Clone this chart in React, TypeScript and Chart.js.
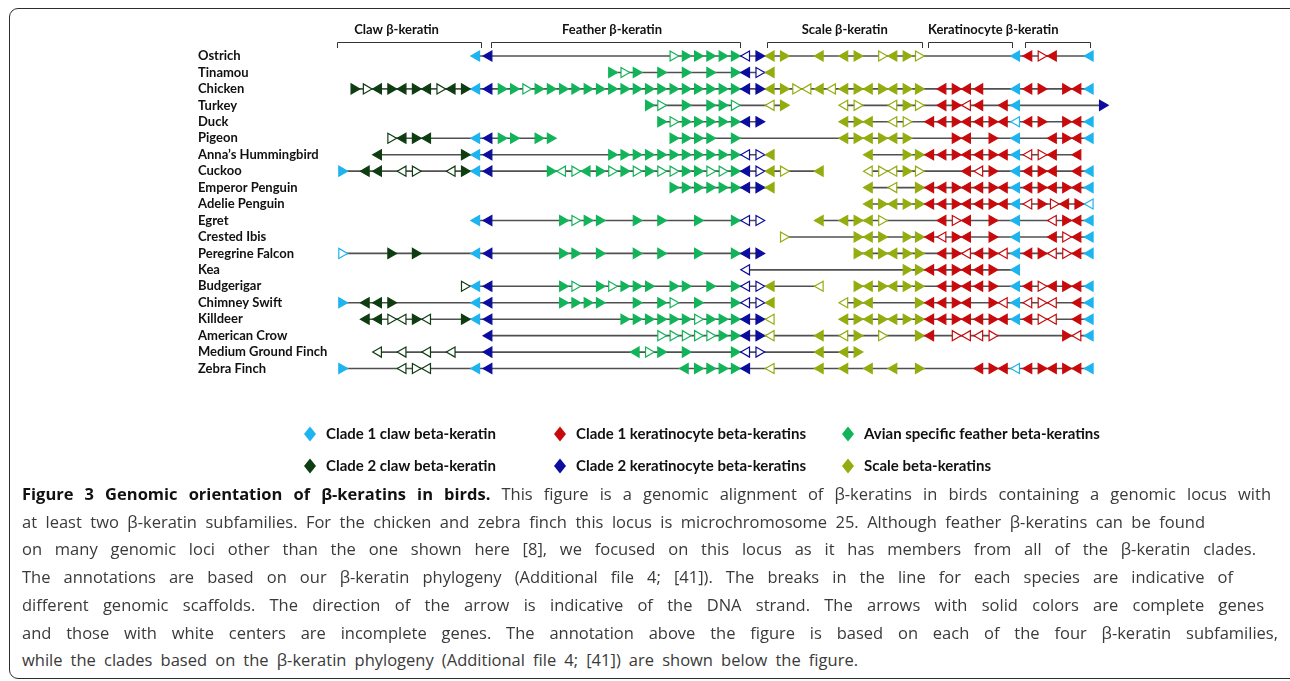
import React, { useEffect, useLayoutEffect, useRef } from "react";
import { Chart, registerables } from "chart.js";

Chart.register(...registerables);

// ---------------- DATA ----------------
const species = [
  "Ostrich", "Tinamou", "Chicken", "Turkey", "Duck", "Pigeon", "Anna\u2019s Hummingbird", "Cuckoo",
  "Emperor Penguin", "Adelie Penguin", "Egret", "Crested Ibis", "Peregrine Falcon", "Kea", "Budgerigar",
  "Chimney Swift", "Killdeer", "American Crow", "Medium Ground Finch", "Zebra Finch",
];

// gene = [locus slot, code]; code = clade letter + ("o" = incomplete / white centre) + strand ("<" or ">")
// A clade 1 claw, B clade 2 claw, R clade 1 keratinocyte, K clade 2 keratinocyte, F feather, S scale
const ostrichGenes = [[11,"A<"],[12,"K<"],[27,"Fo>"],[28,"F>"],[29,"F>"],[30,"F>"],[31,"F>"],[32,"F>"],[33,"Ko<"],[34,"K>"],[35,"S<"],[36,"S>"],[39,"S<"],[41,"S<"],[42,"S>"],[44,"So>"],[45,"S<"],[46,"S>"],[47,"So>"],[55,"A<"],[56,"R<"],[57,"Ro>"],[58,"R<"],[61,"A<"]];
const tinamouGenes = [[22,"F>"],[23,"Fo>"],[24,"F>"],[26,"F>"],[28,"F>"],[30,"F>"],[32,"F>"],[33,"K<"],[34,"Ko>"],[35,"S<"]];
const chickenGenes = [[1,"B>"],[2,"Bo>"],[3,"B<"],[4,"B>"],[5,"B<"],[6,"B>"],[7,"B<"],[8,"Bo>"],[9,"B<"],[10,"B>"],[11,"A<"],[12,"K<"],[13,"F>"],[14,"F>"],[15,"Fo>"],[16,"F>"],[17,"F>"],[18,"F>"],[19,"F>"],[20,"F>"],[21,"F>"],[22,"F>"],[23,"F>"],[24,"F>"],[25,"F>"],[26,"F>"],[27,"F>"],[28,"F>"],[29,"F>"],[30,"F>"],[31,"F>"],[32,"F>"],[33,"K<"],[34,"K>"],[35,"S<"],[36,"S>"],[37,"So>"],[38,"So<"],[39,"S<"],[40,"So<"],[41,"S<"],[42,"S>"],[43,"S<"],[44,"S>"],[45,"S<"],[46,"S>"],[47,"S>"],[49,"R<"],[50,"R>"],[51,"R<"],[52,"R<"],[55,"A<"],[56,"R<"],[57,"R>"],[59,"R>"],[60,"R<"],[61,"A<"]];
const turkeyGenes = [[25,"F>"],[26,"Fo>"],[28,"F>"],[30,"F>"],[31,"F>"],[32,"Fo>"],[35,"So<"],[36,"S>"],[41,"So<"],[42,"So>"],[45,"So<"],[46,"S>"],[47,"So>"],[49,"R<"],[50,"R>"],[51,"Ro<"],[52,"R<"],[54,"R<"],[55,"A<"],[62,"K>"]];
const duckGenes = [[26,"F>"],[27,"Fo>"],[28,"F>"],[29,"F>"],[30,"F>"],[31,"F>"],[32,"F>"],[33,"K<"],[34,"K>"],[41,"S<"],[42,"S>"],[43,"S<"],[45,"So<"],[46,"So>"],[48,"R<"],[49,"R<"],[50,"R>"],[51,"R<"],[52,"R<"],[53,"R>"],[54,"R<"],[55,"Ao<"],[56,"R<"],[57,"R>"],[59,"R>"],[60,"R<"],[61,"A<"]];
const pigeonGenes = [[4,"Bo>"],[5,"B<"],[6,"B>"],[7,"B<"],[11,"A<"],[12,"K<"],[13,"F>"],[14,"F>"],[16,"F>"],[17,"F>"],[27,"F>"],[28,"F>"],[29,"F>"],[30,"F>"],[32,"F>"],[41,"S<"],[42,"S>"],[43,"S<"],[44,"S>"],[45,"S<"],[46,"S>"],[50,"R>"],[51,"R<"],[53,"R>"],[55,"A<"],[58,"R<"],[59,"R>"],[60,"R<"],[61,"A<"]];
const hummingbirdGenes = [[3,"B<"],[10,"B>"],[11,"A<"],[12,"K<"],[22,"F>"],[23,"F>"],[24,"F>"],[25,"F>"],[26,"F>"],[27,"F>"],[28,"F>"],[29,"F>"],[30,"F>"],[31,"F>"],[32,"F>"],[33,"Ko<"],[34,"Ko>"],[35,"S<"],[43,"S<"],[46,"S>"],[47,"S>"],[48,"R<"],[49,"R<"],[50,"R>"],[51,"R<"],[52,"R<"],[53,"R>"],[54,"R<"],[55,"A<"],[56,"Ro<"],[57,"Ro>"],[58,"R<"],[60,"R<"]];
const cuckooGenes = [[0,"A>"],[2,"B<"],[3,"B<"],[5,"Bo<"],[6,"Bo>"],[9,"Bo<"],[10,"B>"],[11,"A<"],[12,"K<"],[17,"F>"],[18,"Fo<"],[19,"Fo>"],[20,"F<"],[21,"F>"],[22,"Fo>"],[23,"F>"],[24,"Fo>"],[25,"F>"],[26,"Fo>"],[27,"Fo>"],[28,"F>"],[29,"F>"],[30,"Fo>"],[31,"Fo>"],[32,"F>"],[33,"K<"],[34,"Ko>"],[35,"S<"],[36,"So>"],[39,"S<"],[43,"So<"],[44,"So>"],[45,"So<"],[46,"S>"],[47,"So>"],[51,"R<"],[52,"Ro<"],[53,"R>"],[55,"A<"],[56,"R<"],[57,"R>"],[58,"R<"],[60,"R<"],[61,"A<"]];
const emperorGenes = [[27,"F>"],[28,"F>"],[29,"F>"],[30,"F>"],[31,"F>"],[32,"F>"],[33,"K<"],[34,"K>"],[35,"S<"],[43,"S<"],[45,"So<"],[47,"S>"],[48,"R<"],[49,"R<"],[50,"R>"],[51,"R<"],[52,"R<"],[53,"R>"],[54,"R<"],[55,"A<"],[56,"R<"],[57,"R>"],[58,"R<"],[59,"R>"],[60,"R<"],[61,"A<"]];
const adelieGenes = [[43,"S<"],[44,"S>"],[45,"S<"],[46,"S>"],[47,"S>"],[48,"R<"],[49,"R<"],[50,"R>"],[51,"R<"],[52,"R<"],[53,"R>"],[54,"R<"],[55,"A<"],[56,"Ro<"],[57,"R>"],[58,"Ro>"],[59,"R<"],[60,"R>"],[61,"Ao<"]];
const egretGenes = [[11,"A<"],[12,"K<"],[18,"F>"],[19,"Fo>"],[20,"F>"],[21,"F>"],[24,"F>"],[26,"F>"],[29,"F>"],[32,"F>"],[33,"Ko<"],[34,"Ko>"],[39,"S<"],[41,"S<"],[42,"S>"],[43,"S<"],[44,"So>"],[49,"R<"],[50,"Ro>"],[51,"R<"],[53,"R>"],[55,"A<"],[58,"Ro<"],[59,"R>"],[60,"R<"],[61,"A<"]];
const ibisGenes = [[36,"So>"],[42,"S>"],[43,"S<"],[44,"S>"],[46,"S>"],[47,"S>"],[48,"R<"],[49,"Ro<"],[50,"R>"],[51,"R<"],[53,"R>"],[55,"A<"],[58,"R<"],[59,"Ro>"],[60,"R<"],[61,"A<"]];
const falconGenes = [[0,"Ao>"],[4,"B>"],[6,"B>"],[11,"A<"],[12,"K<"],[18,"F>"],[19,"F>"],[21,"F>"],[24,"F>"],[26,"F>"],[29,"F>"],[32,"F>"],[33,"K<"],[34,"K>"],[42,"S>"],[43,"S<"],[44,"S>"],[45,"S<"],[46,"S>"],[47,"S>"],[49,"R<"],[50,"R>"],[51,"Ro<"],[52,"R<"],[53,"R>"],[54,"Ro<"],[55,"A<"],[56,"R<"],[57,"R>"],[58,"Ro<"],[59,"Ro>"],[60,"R<"],[61,"A<"]];
const keaGenes = [[33,"Ko<"],[46,"S>"],[47,"S>"],[48,"R<"],[49,"R<"],[50,"R>"],[51,"R<"],[52,"R<"],[53,"R>"],[55,"A<"]];
const budgerigarGenes = [[10,"Bo>"],[11,"A<"],[12,"K<"],[18,"F>"],[19,"Fo>"],[21,"F>"],[22,"Fo>"],[23,"F>"],[24,"F>"],[25,"F>"],[27,"F>"],[28,"F>"],[30,"F>"],[32,"F>"],[33,"Ko<"],[34,"Ko>"],[35,"S<"],[39,"So<"],[42,"S>"],[43,"S<"],[44,"S>"],[45,"S<"],[46,"S>"],[47,"S>"],[49,"R<"],[50,"R>"],[51,"R<"],[52,"R<"],[53,"R>"],[55,"A<"],[56,"R<"],[57,"Ro>"],[58,"R<"],[59,"R>"],[60,"R<"],[61,"A<"]];
const swiftGenes = [[0,"A>"],[2,"B<"],[3,"B<"],[4,"B>"],[11,"A<"],[12,"K<"],[18,"F>"],[19,"F>"],[20,"F>"],[21,"F>"],[24,"F>"],[26,"F>"],[27,"Fo>"],[29,"F>"],[32,"F>"],[33,"Ko<"],[34,"Ko>"],[35,"S<"],[41,"So<"],[42,"S>"],[43,"S<"],[47,"S>"],[48,"R<"],[49,"R<"],[50,"R>"],[51,"R<"],[53,"R>"],[54,"Ro<"],[55,"A<"],[56,"Ro<"],[57,"Ro>"],[58,"Ro<"],[60,"R<"],[61,"A<"]];
const killdeerGenes = [[2,"B<"],[3,"B<"],[4,"Bo>"],[5,"Bo<"],[6,"B>"],[7,"Bo<"],[10,"B>"],[11,"A<"],[12,"K<"],[23,"F>"],[24,"F>"],[25,"F>"],[26,"F>"],[27,"F>"],[28,"F>"],[29,"Fo>"],[30,"F>"],[31,"F>"],[32,"F>"],[33,"K<"],[34,"K>"],[35,"So<"],[41,"S<"],[42,"S>"],[43,"S<"],[44,"S>"],[45,"S<"],[46,"S>"],[47,"S>"],[48,"R<"],[49,"R<"],[50,"R>"],[51,"R<"],[52,"R<"],[53,"R>"],[54,"R<"],[55,"A<"],[56,"R<"],[57,"Ro>"],[58,"Ro<"],[60,"R<"],[61,"A<"]];
const crowGenes = [[12,"K<"],[26,"Fo>"],[27,"Fo>"],[28,"Fo>"],[29,"Fo>"],[30,"Fo>"],[31,"F>"],[32,"F>"],[33,"K<"],[34,"K>"],[35,"So<"],[39,"S<"],[41,"So<"],[42,"S>"],[44,"So>"],[47,"S>"],[48,"R<"],[50,"Ro>"],[51,"Ro<"],[52,"Ro<"],[53,"Ro>"],[59,"R>"],[60,"Ro<"],[61,"A<"]];
const groundFinchGenes = [[3,"Bo<"],[5,"Bo<"],[7,"Bo<"],[9,"Bo<"],[12,"K<"],[24,"F<"],[25,"Fo>"],[26,"F>"],[28,"F>"],[32,"F>"],[33,"Ko<"],[34,"Ko>"],[39,"S<"],[41,"S<"],[42,"S>"]];
const zebraFinchGenes = [[0,"A>"],[5,"Bo<"],[6,"Bo>"],[7,"Bo<"],[11,"A<"],[12,"K<"],[28,"F<"],[29,"F>"],[30,"F>"],[31,"F>"],[32,"F>"],[33,"K<"],[35,"So<"],[39,"S<"],[41,"S<"],[43,"S<"],[45,"S<"],[47,"S>"],[52,"R<"],[53,"R>"],[54,"R<"],[55,"Ao<"],[56,"R<"],[57,"R>"],[58,"R<"],[59,"R>"],[60,"R<"],[61,"A<"]];

const genesByRow = [
  ostrichGenes, tinamouGenes, chickenGenes, turkeyGenes, duckGenes, pigeonGenes, hummingbirdGenes, cuckooGenes,
  emperorGenes, adelieGenes, egretGenes, ibisGenes, falconGenes, keaGenes, budgerigarGenes, swiftGenes,
  killdeerGenes, crowGenes, groundFinchGenes, zebraFinchGenes,
];

// scaffold segments per species: [start slot, end slot]
const scaffoldsByRow = [
  [[11, 61]], [[22, 35]], [[1, 61]], [[25, 36], [41, 62]], [[26, 34], [41, 61]],
  [[4, 17], [27, 61]], [[3, 35], [43, 60]], [[0, 39], [43, 61]], [[27, 35], [43, 61]], [[43, 61]],
  [[11, 34], [39, 61]], [[36, 61]], [[0, 34], [42, 61]], [[33, 55]], [[10, 39], [42, 61]],
  [[0, 35], [41, 61]], [[2, 35], [41, 61]], [[12, 61]], [[3, 42]], [[0, 61]],
];

const subfamilyLabels = ["Claw \u03b2-keratin", "Feather \u03b2-keratin", "Scale \u03b2-keratin", "Keratinocyte \u03b2-keratin"];
const subfamilyLabelCenters = [4.47, 22.03, 41.0, 53.1];
const subfamilyBrackets = [[-0.38, 11.35], [12.17, 32.46], [34.66, 47.3], [47.79, 54.63], [55.69, 61.0]];

const cladeKeys = ["A", "R", "F", "B", "K", "S"];
const cladeNames = [
  "Clade 1 claw beta-keratin", "Clade 1 keratinocyte beta-keratins", "Avian specific feather beta-keratins",
  "Clade 2 claw beta-keratin", "Clade 2 keratinocyte beta-keratins", "Scale beta-keratins",
];
const cladeColors: Record<string, string> = {
  A: "#1db4ef", B: "#0f3d12", R: "#c80a0c", K: "#0c0c9e", F: "#12b45a", S: "#94ad0e",
};

const captionBold = "Figure 3 Genomic orientation of \u03b2-keratins in birds.";
const captionLines = [
  " This figure is a genomic alignment of \u03b2-keratins in birds containing a genomic locus with",
  "at least two \u03b2-keratin subfamilies. For the chicken and zebra finch this locus is microchromosome 25. Although feather \u03b2-keratins can be found",
  "on many genomic loci other than the one shown here [8], we focused on this locus as it has members from all of the \u03b2-keratin clades.",
  "The annotations are based on our \u03b2-keratin phylogeny (Additional file 4; [41]). The breaks in the line for each species are indicative of",
  "different genomic scaffolds. The direction of the arrow is indicative of the DNA strand. The arrows with solid colors are complete genes",
  "and those with white centers are incomplete genes. The annotation above the figure is based on each of the four \u03b2-keratin subfamilies,",
  "while the clades based on the \u03b2-keratin phylogeny (Additional file 4; [41]) are shown below the figure.",
];
const captionLineEnds = [1271, 1205, 1256, 1233, 1264, 1278, 858];

// ---------------- LAYOUT CONSTANTS ----------------
const W = 1290;
const CANVAS_H = 490;
const SLOT0_PX = 341.7;
const SLOT_PX = 12.27;
const AREA_LEFT = 330;
const AREA_RIGHT = 1110;
const ROW0_PX = 56;
const ROW_PX = 16.45;
const CAP_LEFT = 22;
const CAP_TOP = 494;
const CAP_STEP = 27.7;

const FONT_LABEL = "Lato, 'Open Sans', sans-serif";

const headerPlugin = {
  id: "subfamilyHeader",
  afterDraw(chart: any) {
    const { ctx } = chart;
    const xs = chart.scales.x;
    ctx.save();
    ctx.strokeStyle = "#333";
    ctx.lineWidth = 1;
    subfamilyBrackets.forEach(([a, b]) => {
      const x1 = Math.round(xs.getPixelForValue(a)) + 0.5;
      const x2 = Math.round(xs.getPixelForValue(b)) + 0.5;
      ctx.beginPath();
      ctx.moveTo(x1, 48);
      ctx.lineTo(x1, 42.5);
      ctx.lineTo(x2, 42.5);
      ctx.lineTo(x2, 48);
      ctx.stroke();
    });
    ctx.fillStyle = "#111";
    ctx.font = `bold 13px ${FONT_LABEL}`;
    ctx.textAlign = "center";
    ctx.textBaseline = "middle";
    subfamilyLabels.forEach((t, i) => {
      ctx.fillText(t, xs.getPixelForValue(subfamilyLabelCenters[i]), 30);
    });
    ctx.restore();
  },
};

const cladeLegendPlugin = {
  id: "cladeLegend",
  afterDraw(chart: any) {
    const { ctx } = chart;
    const colX = [310, 560, 848];
    const rowY = [434, 466];
    ctx.save();
    ctx.font = `bold 15px ${FONT_LABEL}`;
    ctx.textAlign = "left";
    ctx.textBaseline = "middle";
    cladeKeys.forEach((k, i) => {
      const cx = colX[i % 3];
      const cy = rowY[Math.floor(i / 3)];
      ctx.fillStyle = cladeColors[k];
      ctx.beginPath();
      ctx.moveTo(cx, cy - 7.5);
      ctx.lineTo(cx + 6, cy);
      ctx.lineTo(cx, cy + 7.5);
      ctx.lineTo(cx - 6, cy);
      ctx.closePath();
      ctx.fill();
      ctx.fillStyle = "#111";
      ctx.fillText(cladeNames[i], cx + 16, cy + 0.5);
    });
    ctx.restore();
  },
};

function GenomeChart() {
  const ref = useRef<HTMLCanvasElement | null>(null);
  useEffect(() => {
    if (!ref.current) return;
    const markers: any[] = [];
    const bg: string[] = [];
    const bc: string[] = [];
    const rot: number[] = [];
    genesByRow.forEach((row, r) => {
      row.forEach(([slot, code]: any) => {
        const col = cladeColors[code[0]];
        const hollow = code.indexOf("o") >= 0;
        markers.push({ x: slot, y: r });
        bg.push(hollow ? "#ffffff" : col);
        bc.push(col);
        rot.push(code.endsWith(">") ? 90 : 270);
      });
    });
    const lineSets: any[] = [];
    scaffoldsByRow.forEach((segs, r) => {
      segs.forEach(([a, b]) => {
        lineSets.push({
          data: [{ x: a, y: r }, { x: b, y: r }],
          showLine: true,
          borderColor: "#505050",
          borderWidth: 1.6,
          pointRadius: 0,
          order: 2,
        });
      });
    });
    const xMin = (AREA_LEFT - SLOT0_PX) / SLOT_PX;
    const xMax = (AREA_RIGHT - SLOT0_PX) / SLOT_PX;
    const top = ROW0_PX - ROW_PX;
    const bottom = ROW0_PX + ROW_PX * species.length;
    const chart = new Chart(ref.current, {
      type: "scatter",
      data: {
        datasets: [
          {
            data: markers,
            pointStyle: "triangle",
            pointRadius: 5.8,
            pointBackgroundColor: bg,
            pointBorderColor: bc,
            pointBorderWidth: 1.2,
            pointRotation: rot,
            order: 1,
          } as any,
          ...lineSets,
        ],
      },
      options: {
        animation: false,
        responsive: false,
        events: [],
        layout: { padding: { left: 198, right: W - AREA_RIGHT, top, bottom: CANVAS_H - bottom } },
        plugins: { legend: { display: false }, tooltip: { enabled: false } },
        scales: {
          x: { type: "linear", display: false, min: xMin, max: xMax },
          y: {
            type: "linear",
            reverse: true,
            min: -1,
            max: species.length,
            grid: { display: false },
            border: { display: false },
            afterFit: (s: any) => { s.width = AREA_LEFT - 198; },
            ticks: {
              stepSize: 1,
              autoSkip: false,
              maxTicksLimit: 100,
              crossAlign: "far",
              color: "#111",
              font: { family: FONT_LABEL, size: 13, weight: "bold" },
              callback: (v: any) => species[v] ?? "",
            },
          },
        },
      } as any,
      plugins: [headerPlugin, cladeLegendPlugin],
    });
    return () => chart.destroy();
  }, []);
  return (
    <canvas
      ref={ref}
      width={W}
      height={CANVAS_H}
      style={{ position: "absolute", left: 0, top: 0, width: W, height: CANVAS_H }}
    />
  );
}

function Caption() {
  const refs = useRef<(HTMLDivElement | null)[]>([]);
  useLayoutEffect(() => {
    const fit = () => {
      refs.current.forEach((el, i) => {
        if (!el) return;
        el.style.wordSpacing = "0px";
        const w = el.getBoundingClientRect().width;
        const full = (i === 0 ? captionBold : "") + captionLines[i];
        const spaces = full.split(" ").length - 1;
        const target = captionLineEnds[i] - CAP_LEFT;
        if (spaces > 0) el.style.wordSpacing = `${(target - w) / spaces}px`;
      });
    };
    fit();
    if ((document as any).fonts?.ready) (document as any).fonts.ready.then(fit);
  }, []);
  return (
    <>
      {captionLines.map((t, i) => (
        <div
          key={i}
          ref={(el) => { refs.current[i] = el; }}
          style={{
            position: "absolute",
            left: CAP_LEFT,
            top: CAP_TOP + i * CAP_STEP - 11,
            whiteSpace: "pre",
            fontFamily: "'Open Sans', sans-serif",
            fontSize: 16.5,
            lineHeight: "22px",
            color: "#3a3a3a",
          }}
        >
          {i === 0 ? <b style={{ color: "#111", fontWeight: 700 }}>{captionBold}</b> : null}
          {t}
        </div>
      ))}
    </>
  );
}

export default function App() {
  return (
    <div style={{ position: "absolute", left: 0, top: 0, width: W, height: 681, overflow: "hidden", background: "#fff" }}>
      <div
        style={{
          position: "absolute",
          left: 9,
          top: 8,
          width: 1290,
          height: 671,
          border: "1.5px solid #2e2e2e",
          borderRadius: 9,
          boxSizing: "border-box",
        }}
      />
      <GenomeChart />
      <Caption />
    </div>
  );
}
